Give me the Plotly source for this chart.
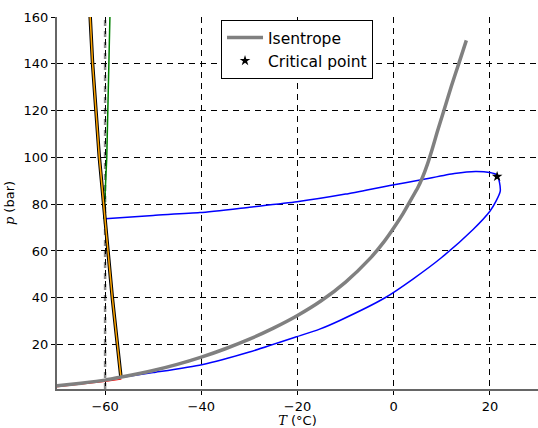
import plotly.graph_objects as go

# Isentrope (grey)
iso_T = [-70, -65, -60, -56.6, -50, -45, -40, -35, -30, -25, -20, -15, -10, -5, -2, 0, 2, 3.5, 5, 6, 7,
         8, 9, 10.5, 12.0, 13.6, 15.1]
iso_p = [2.4, 3.5, 4.8, 6.1, 8.9, 11.5, 14.6, 18.2, 22.3, 27.0, 32.4, 38.8, 46.7, 56.6, 64.0, 69.8, 76.2,
         81.6, 87.0, 91.5, 97.0, 103.5, 110.5, 120.5, 130.5, 140.5, 150.0]

# Blue loop
loop_T = [-60.0, -50, -40.3, -30, -20.1, -10, -0.8, 5.75, 12.6, 17.0, 20.0, 21.5, 22.0, 22.15, 21.3, 20.0,
          16.5, 9.9, 4.0, -1.8, -11.2, -15.4, -20.2, -30, -39.9, -50, -56.5]
loop_p = [73.8, 75.2, 76.4, 78.7, 81.0, 84.3, 88.0, 90.4, 93.1, 94.0, 93.5, 92.4, 89.2, 85.6, 81.4, 77.0,
          69.2, 57.1, 48.0, 40.0, 30.3, 26.6, 23.3, 16.8, 11.4, 8.0, 6.0]

# Melting line (orange with black edge)
melt_T = [-56.7, -57.5, -58.5, -59.4, -60.35, -61.2, -61.9, -62.6, -63.1]
melt_p = [5.9, 20, 40, 60, 80, 100, 120, 140, 160]

# Green line
green_T = [-60.3, -60.1, -59.65, -59.45, -59.2, -59.0]
green_p = [73.8, 80, 100, 120, 140, 160]

# Sublimation line (red)
sub_T = [-70, -65, -60, -56.6]
sub_p = [1.9, 3.0, 4.2, 5.2]

# Critical point
crit_T = [21.5]
crit_p = [91.8]

x_ticks = [-60, -40, -20, 0, 20]
y_ticks = [20, 40, 60, 80, 100, 120, 140, 160]

fig = go.Figure()
fig.add_trace(go.Scatter(x=green_T, y=green_p, mode="lines", line=dict(color="#008000", width=1.5), showlegend=False))
fig.add_trace(go.Scatter(x=sub_T, y=sub_p, mode="lines", line=dict(color="#ff0000", width=1), showlegend=False))
fig.add_trace(go.Scatter(x=loop_T, y=loop_p, mode="lines", line=dict(color="#0000ff", width=1.5, shape="spline", smoothing=0.6), showlegend=False))
fig.add_trace(go.Scatter(x=melt_T, y=melt_p, mode="lines", line=dict(color="black", width=3.5), showlegend=False))
fig.add_trace(go.Scatter(x=melt_T, y=melt_p, mode="lines", line=dict(color="#ffa500", width=1.5), showlegend=False))
fig.add_trace(go.Scatter(x=iso_T, y=iso_p, mode="lines", name="Isentrope",
                         line=dict(color="#808080", width=3.5, shape="spline", smoothing=0.5)))
fig.add_trace(go.Scatter(x=crit_T, y=crit_p, mode="markers", name="Critical point",
                         marker=dict(symbol="star", size=8, color="black")))

fig.add_shape(type="line", x0=-60, x1=-60, y0=1, y1=160, xref="x", yref="y",
              line=dict(color="#8a8a8a", width=2.5, dash="6px,5px"), layer="below")

fig.update_layout(
    width=538, height=428,
    margin=dict(l=57, r=0, t=17, b=39),
    paper_bgcolor="white", plot_bgcolor="white",
    font=dict(family="DejaVu Sans", size=13, color="black"),
    legend=dict(x=0.341, y=0.992, xanchor="left", yanchor="top",
                bordercolor="black", borderwidth=1, bgcolor="white", itemwidth=36,
                font=dict(size=15.5, family="DejaVu Sans"), tracegroupgap=0),
    xaxis=dict(range=[-70, 30], tickvals=x_ticks, showgrid=True, gridcolor="black", gridwidth=1,
               griddash="6px,5px", zeroline=False, showline=True, linecolor="#666666", linewidth=2,
               ticks="outside", ticklen=4, tickcolor="black",
               title=dict(text="<i style='font-family:DejaVu Serif'>T</i> (°C)", standoff=4, font=dict(size=13))),
    yaxis=dict(range=[1, 160], tickvals=y_ticks, showgrid=True, gridcolor="black", gridwidth=1,
               griddash="6px,5px", zeroline=False, showline=True, linecolor="#666666", linewidth=2,
               ticks="outside", ticklen=4, tickcolor="black",
               title=dict(text="<i style='font-family:DejaVu Serif'>p</i> (bar)", standoff=6, font=dict(size=13))),
)

fig.write_html("out.html")
